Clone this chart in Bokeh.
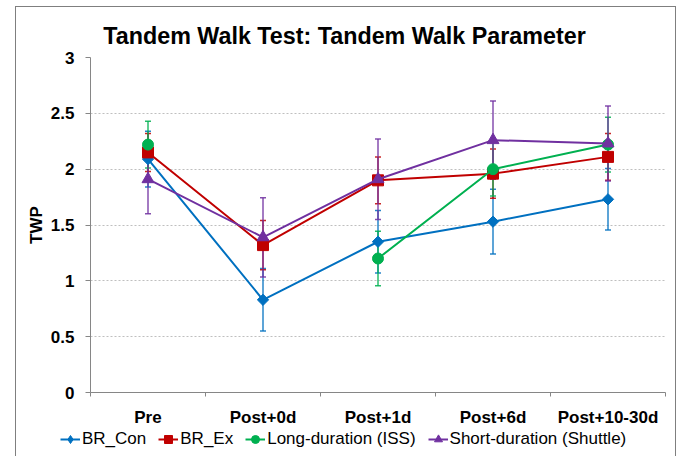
import numpy as np
from bokeh.plotting import figure
from bokeh.layouts import column
from bokeh.models import (Range1d, FixedTicker, Whisker, TeeHead, ColumnDataSource,
                          Legend, LegendItem, Label)
from bokeh.embed import file_html
from bokeh.resources import INLINE

# ---------------- data ----------------
categories = ["Pre", "Post+0d", "Post+1d", "Post+6d", "Post+10-30d"]
series_names = ["BR_Con", "BR_Ex", "Long-duration (ISS)", "Short-duration (Shuttle)"]
br_con = [2.09, 0.83, 1.35, 1.53, 1.73]
br_con_err = [0.25, 0.28, 0.28, 0.29, 0.275]
br_ex = [2.15, 1.32, 1.90, 1.96, 2.11]
br_ex_err = [0.17, 0.22, 0.21, 0.22, 0.21]
iss = [2.22, np.nan, 1.20, 2.00, 2.22]
iss_err = [0.21, np.nan, 0.245, 0.24, 0.245]
shuttle = [1.91, 1.39, 1.91, 2.26, 2.23]
shuttle_err = [0.31, 0.355, 0.36, 0.35, 0.335]
y_ticks = [0, 0.5, 1, 1.5, 2, 2.5, 3]
y_tick_labels = ["0", "0.5", "1", "1.5", "2", "2.5", "3"]
title_text = "Tandem Walk Test: Tandem Walk Parameter"
y_label = "TWP"

FONT = "Liberation Sans"
colors = ["#0070C0", "#C00000", "#00B050", "#7030A0"]
markers = ["square", "square", "circle", "triangle"]
legend_markers = ["diamond", "square", "circle", "triangle"]
angles = [np.pi / 4, 0, 0, 0]
sizes = [8, 11, 11, 12]
legend_sizes = [9, 7, 7, 8]

xs = [i + 0.5 for i in range(len(categories))]
W = 659


def strip(h):
    f = figure(width=W, height=h, x_range=Range1d(0, W), y_range=Range1d(0, h),
               output_backend="svg", toolbar_location=None,
               min_border_left=0, min_border_right=0, min_border_top=0, min_border_bottom=0,
               x_axis_type=None, y_axis_type=None)
    try:
        f.title = None
    except Exception:
        f.title.text = ""
        f.title.text_font_size = "0px"
        f.title.standoff = 0
    f.outline_line_color = None
    f.grid.visible = False
    f.background_fill_color = "white"
    f.border_fill_color = "white"
    if "frame_align" in f.properties():
        f.frame_align = False
    return f


# ---------------- title strip ----------------
TH = 40
tfig = strip(TH)
tfig.add_layout(Label(x=328, y=TH - 28, text=title_text, text_align="center",
                      text_baseline="alphabetic", text_font=FONT, text_font_size="23.3px",
                      text_font_style="bold", text_color="black"))

# ---------------- main plot ----------------
p = figure(width=W, height=382, x_range=Range1d(0, len(categories)), y_range=Range1d(0, 3),
           output_backend="svg", toolbar_location=None,
           min_border_left=74, min_border_right=10, min_border_top=10, min_border_bottom=37)
p.outline_line_color = None
p.background_fill_color = "white"
p.border_fill_color = "white"

p.xaxis.ticker = FixedTicker(ticks=xs, minor_ticks=list(range(len(categories) + 1)))
p.xaxis.major_label_overrides = {x: c for x, c in zip(xs, categories)}
p.xaxis.major_tick_out = 0
p.xaxis.major_tick_in = 0
p.xaxis.minor_tick_out = 4
p.xaxis.minor_tick_in = 0
p.xaxis.minor_tick_line_color = "#868686"
p.xaxis.axis_line_color = "#868686"
p.xaxis.major_label_text_font = FONT
p.xaxis.major_label_text_font_size = "17px"
p.xaxis.major_label_text_font_style = "bold"
p.xaxis.major_label_text_color = "black"
p.xaxis.major_label_standoff = 11

p.yaxis.ticker = FixedTicker(ticks=y_ticks, minor_ticks=[])
p.yaxis.major_label_overrides = {t: l for t, l in zip(y_ticks, y_tick_labels)}
p.yaxis.major_tick_out = 5
p.yaxis.major_tick_in = 0
p.yaxis.major_tick_line_color = "#868686"
p.yaxis.axis_line_color = "#868686"
p.yaxis.major_label_text_font = FONT
p.yaxis.major_label_text_font_size = "17px"
p.yaxis.major_label_text_font_style = "bold"
p.yaxis.major_label_text_color = "black"
p.yaxis.major_label_standoff = 11
p.yaxis.axis_label = y_label
p.yaxis.axis_label_text_font = FONT
p.yaxis.axis_label_text_font_size = "17px"
p.yaxis.axis_label_text_font_style = "bold"
p.yaxis.axis_label_text_color = "black"
p.yaxis.axis_label_standoff = 2

p.xgrid.grid_line_color = None
p.ygrid.grid_line_color = "#BFBFBF"
p.ygrid.grid_line_dash = "2 2"
p.ygrid.grid_line_width = 1

# ---------------- legend strip ----------------
LH = 27
leg = strip(LH)
leg.x_range = Range1d(100, 101)   # keeps the legend renderers' data out of view
leg.y_range = Range1d(100, 101)

all_vals = [br_con, br_ex, iss, shuttle]
all_errs = [br_con_err, br_ex_err, iss_err, shuttle_err]

items = []
for name, vals, errs, c, m, lm, a, s, ls in zip(series_names, all_vals, all_errs, colors,
                                                  markers, legend_markers, angles, sizes,
                                                  legend_sizes):
    v = np.array(vals, dtype=float)
    e = np.array(errs, dtype=float)
    ok = ~np.isnan(v)
    wsrc = ColumnDataSource(dict(x=np.array(xs)[ok], upper=(v + e)[ok], lower=(v - e)[ok]))
    w = Whisker(source=wsrc, base="x", upper="upper", lower="lower", dimension="height",
                line_color=c, line_width=1.5, line_alpha=0.85,
                upper_head=TeeHead(size=6, line_color=c, line_width=1.5, line_alpha=0.85),
                lower_head=TeeHead(size=6, line_color=c, line_width=1.5, line_alpha=0.85))
    p.add_layout(w)
    src = ColumnDataSource(dict(x=xs, y=v))
    p.line("x", "y", source=src, line_color=c, line_width=2)
    p.scatter("x", "y", source=src, marker=m, angle=a, size=s, fill_color=c, line_color=c)
    lr = leg.line("x", "y", source=src, line_color=c, line_width=2)
    sr = leg.scatter("x", "y", source=src, marker=lm, size=ls, fill_color=c, line_color=c)
    items.append(LegendItem(label=name, renderers=[lr, sr], index=0))

legend = Legend(items=items, location=(44, LH - 20), orientation="horizontal",
                label_text_font=FONT, label_text_font_size="17px", label_text_color="black",
                glyph_width=20, glyph_height=20, label_height=20, label_standoff=2,
                spacing=12, padding=0, margin=0, border_line_alpha=0,
                background_fill_alpha=0)
leg.add_layout(legend, "center")

layout = column(tfig, p, leg, spacing=0)
layout.styles = {"margin-left": "15px", "margin-top": "6px",
                 "border-left": "1px solid #7F7F7F", "border-top": "1px solid #7F7F7F",
                 "border-right": "1px solid #7F7F7F"}

open("out.html", "w").write(file_html(layout, INLINE))
